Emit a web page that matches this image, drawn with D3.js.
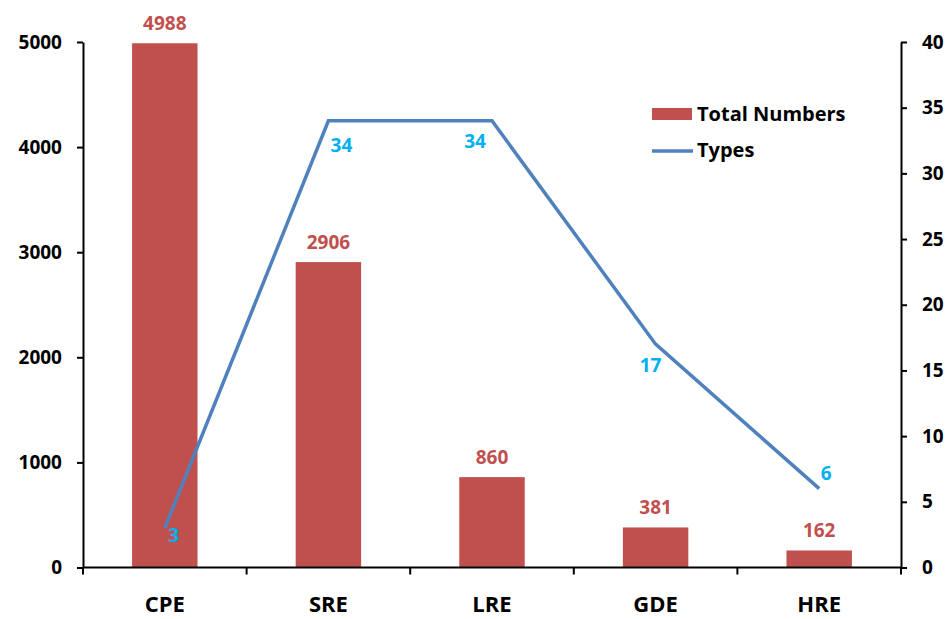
<!DOCTYPE html>
<html>
<head>
<meta charset="utf-8">
<script src="https://cdn.jsdelivr.net/npm/d3@7"></script>
<style>
  html, body { margin: 0; padding: 0; background: #fff; }
  svg text { font-family: "Open Sans", Lato, sans-serif; font-weight: bold; }
</style>
</head>
<body>
<svg id="chart" width="947" height="619"></svg>
<script>
// Chart data
const categories = ["CPE", "SRE", "LRE", "GDE", "HRE"];
const totalNumbers = [4988, 2906, 860, 381, 162];
const types = [3, 34, 34, 17, 6];
const leftTicks = [0, 1000, 2000, 3000, 4000, 5000];
const rightTicks = [0, 5, 10, 15, 20, 25, 30, 35, 40];
const legendLabels = ["Total Numbers", "Types"];

const barColor = "#C0504D";
const lineColor = "#4F81BD";
const lineLabelColor = "#00B0F0";
const fontStack = "'Open Sans', Lato, sans-serif";

const svg = d3.select("#chart");
const plotLeft = 83, plotRight = 901, plotTop = 42, plotBottom = 567.5;

const x = d3.scaleBand().domain(categories).range([plotLeft, plotRight]).paddingInner(0.6).paddingOuter(0.3);
const xCenter = c => x(c) + x.bandwidth() / 2;
const yL = d3.scaleLinear().domain([0, 5000]).range([plotBottom, plotTop]);
const yR = d3.scaleLinear().domain([0, 40]).range([plotBottom, plotTop]);

// Bars
svg.append("g").selectAll("rect").data(categories).join("rect")
  .attr("x", c => x(c))
  .attr("width", x.bandwidth())
  .attr("y", (c, i) => yL(totalNumbers[i]))
  .attr("height", (c, i) => plotBottom - yL(totalNumbers[i]))
  .attr("fill", barColor);

// Bar value labels
svg.append("g").selectAll("text").data(categories).join("text")
  .attr("x", c => xCenter(c))
  .attr("y", (c, i) => yL(totalNumbers[i]) - 13)
  .attr("text-anchor", "middle")
  .attr("font-size", 19)
  .attr("fill", barColor)
  .text((c, i) => totalNumbers[i]);

// Types line
const line = d3.line().x(d => xCenter(d.c)).y(d => yR(d.v));
const pts = categories.map((c, i) => ({ c, v: types[i] }));
svg.append("path").datum(pts)
  .attr("d", line)
  .attr("fill", "none")
  .attr("stroke", lineColor)
  .attr("stroke-width", 3.5)
  .attr("stroke-linejoin", "miter");

// Line value labels (offsets place each label beside its point)
const labelOffsets = [[9, 14], [13, 31], [-17, 27], [-5, 28], [7, -9]];
svg.append("g").selectAll("text").data(pts).join("text")
  .attr("x", (d, i) => xCenter(d.c) + labelOffsets[i][0])
  .attr("y", (d, i) => yR(d.v) + labelOffsets[i][1])
  .attr("text-anchor", "middle")
  .attr("font-size", 19)
  .attr("fill", lineLabelColor)
  .text(d => d.v);

// Axes
const axisStyle = g => {
  g.selectAll("path, line").attr("stroke", "#000").attr("stroke-width", 2);
  g.selectAll("text").attr("fill", "#000").attr("font-size", 19)
    .style("font-family", fontStack).style("font-weight", "bold");
};

svg.append("g").attr("transform", `translate(${plotLeft},0)`)
  .call(d3.axisLeft(yL).tickValues(leftTicks).tickFormat(d3.format("d"))
    .tickSize(6).tickSizeOuter(0).tickPadding(15))
  .call(axisStyle);

svg.append("g").attr("transform", `translate(${plotRight},0)`)
  .call(d3.axisRight(yR).tickValues(rightTicks).tickFormat(d3.format("d"))
    .tickSize(6).tickSizeOuter(0).tickPadding(15))
  .call(axisStyle);

// Category axis with ticks at band boundaries
const xAxisG = svg.append("g").attr("transform", `translate(0,${plotBottom})`);
xAxisG.append("line").attr("x1", plotLeft).attr("x2", plotRight).attr("y1", 0).attr("y2", 0)
  .attr("stroke", "#000").attr("stroke-width", 2);
const step = (plotRight - plotLeft) / categories.length;
xAxisG.selectAll("line.tick").data(d3.range(categories.length + 1)).join("line")
  .attr("class", "tick")
  .attr("x1", i => plotLeft + i * step).attr("x2", i => plotLeft + i * step)
  .attr("y1", 0).attr("y2", 7)
  .attr("stroke", "#000").attr("stroke-width", 2);
xAxisG.selectAll("text").data(categories).join("text")
  .attr("x", c => xCenter(c))
  .attr("y", 44)
  .attr("text-anchor", "middle")
  .attr("font-size", 22)
  .attr("fill", "#000")
  .text(c => c);

// Legend
const legend = svg.append("g");
legend.append("rect").attr("x", 652).attr("y", 108).attr("width", 40).attr("height", 12).attr("fill", barColor);
legend.append("text").attr("x", 697).attr("y", 121).attr("font-size", 20).attr("fill", "#000").text(legendLabels[0]);
legend.append("line").attr("x1", 652).attr("x2", 693).attr("y1", 151).attr("y2", 151)
  .attr("stroke", lineColor).attr("stroke-width", 3.5);
legend.append("text").attr("x", 697).attr("y", 157).attr("font-size", 20).attr("fill", "#000").text(legendLabels[1]);
</script>
</body>
</html>
